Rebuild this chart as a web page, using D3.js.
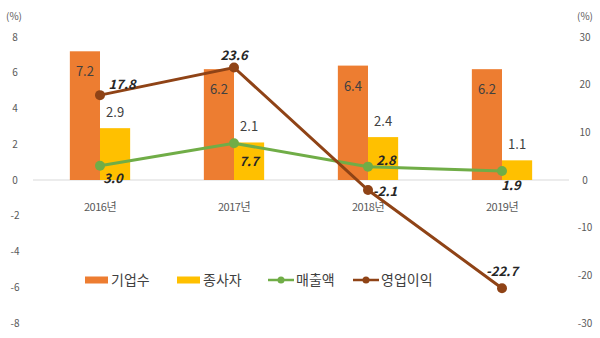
<!DOCTYPE html>
<html><head><meta charset="utf-8">
<script src="https://cdn.jsdelivr.net/npm/d3@7"></script>
<style>body{margin:0;background:#fff;}svg{display:block;font-family:"Noto Sans CJK KR","Noto Sans",sans-serif;}</style>
</head><body>
<svg id="c" width="600" height="338"></svg>
<script>
const categories = ["2016년","2017년","2018년","2019년"];
const firms = [7.2, 6.2, 6.4, 6.2];        // 기업수 (left axis)
const workers = [2.9, 2.1, 2.4, 1.1];      // 종사자 (left axis)
const sales = [3.0, 7.7, 2.8, 1.9];        // 매출액 (right axis)
const profit = [17.8, 23.6, -2.1, -22.7];  // 영업이익 (right axis)
const leftTicks = [8,6,4,2,0,-2,-4,-6,-8];
const rightTicks = [30,20,10,0,-10,-20,-30];
const seriesNames = ["기업수","종사자","매출액","영업이익"];

(function(){
const C = {firms:"#ED7D31", workers:"#FFC000", sales:"#70AD47", profit:"#8F4316"};
const svg = d3.select("#c");
const pL = 33, pR = 569, pT = 37, pB = 323;

const x = d3.scaleBand().domain(categories).range([pL, pR]).paddingInner(0.55).paddingOuter(0.275);
const xs = d3.scaleBand().domain(["f","w"]).range([0, x.bandwidth()]);
const yL = d3.scaleLinear().domain([-8, 8]).range([pB, pT]);
const yR = d3.scaleLinear().domain([-30, 30]).range([pB, pT]);
const cx = c => x(c) + x.bandwidth()/2;

// zero line
svg.append("line").attr("x1", pL).attr("x2", pR).attr("y1", yL(0)).attr("y2", yL(0))
  .attr("stroke", "#d9d9d9").attr("stroke-width", 1.2);

// axes tick labels
svg.append("g").selectAll("text").data(leftTicks).join("text")
  .attr("x", 15).attr("y", d => yL(d)).attr("dy", "0.35em").attr("text-anchor", "middle")
  .attr("font-size", 10).attr("fill", "#595959").text(d => d);
svg.append("g").selectAll("text").data(rightTicks).join("text")
  .attr("x", 585).attr("y", d => yR(d)).attr("dy", "0.35em").attr("text-anchor", "middle")
  .attr("font-size", 10).attr("fill", "#595959").text(d => d);
svg.append("text").attr("x", 14).attr("y", 20).attr("text-anchor", "middle").attr("font-size", 10).attr("fill", "#595959").text("(%)");
svg.append("text").attr("x", 585).attr("y", 20).attr("text-anchor", "middle").attr("font-size", 10).attr("fill", "#595959").text("(%)");

// category labels
svg.append("g").selectAll("text").data(categories).join("text")
  .attr("x", d => cx(d)).attr("y", 211).attr("text-anchor", "middle")
  .attr("font-size", 11).attr("fill", "#595959").attr("letter-spacing", "-0.5").text(d => d);

// bars
svg.append("g").selectAll("rect").data(firms).join("rect")
  .attr("x", (d,i) => x(categories[i]) + xs("f")).attr("width", xs.bandwidth())
  .attr("y", d => yL(d)).attr("height", d => yL(0) - yL(d)).attr("fill", C.firms);
svg.append("g").selectAll("rect").data(workers).join("rect")
  .attr("x", (d,i) => x(categories[i]) + xs("w")).attr("width", xs.bandwidth())
  .attr("y", d => yL(d)).attr("height", d => yL(0) - yL(d)).attr("fill", C.workers);

// bar labels
svg.append("g").selectAll("text").data(firms).join("text")
  .attr("x", (d,i) => x(categories[i]) + xs("f") + xs.bandwidth()/2).attr("y", d => yL(d) + 25)
  .attr("text-anchor", "middle").attr("font-size", 13).attr("fill", "#404040").text(d => d.toFixed(1));
svg.append("g").selectAll("text").data(workers).join("text")
  .attr("x", (d,i) => x(categories[i]) + xs("w") + xs.bandwidth()/2).attr("y", d => yL(d) - 11)
  .attr("text-anchor", "middle").attr("font-size", 13).attr("fill", "#404040").text(d => d.toFixed(1));

// lines
const line = d3.line().x((d,i) => cx(categories[i])).y(d => yR(d));
svg.append("path").datum(sales).attr("d", line).attr("fill", "none").attr("stroke", C.sales).attr("stroke-width", 3);
svg.append("g").selectAll("circle").data(sales).join("circle")
  .attr("cx", (d,i) => cx(categories[i])).attr("cy", d => yR(d)).attr("r", 5).attr("fill", C.sales);
svg.append("path").datum(profit).attr("d", line).attr("fill", "none").attr("stroke", C.profit).attr("stroke-width", 3);
svg.append("g").selectAll("circle").data(profit).join("circle")
  .attr("cx", (d,i) => cx(categories[i])).attr("cy", d => yR(d)).attr("r", 5).attr("fill", C.profit);

// line labels (offsets relative to points)
const salesOff = [[13, 13], [15, 18], [18, -6], [9, 15]];
const profitOff = [[22, -11], [0, -12], [17, 1], [0, -17]];
svg.append("g").selectAll("text").data(sales).join("text")
  .attr("x", (d,i) => cx(categories[i]) + salesOff[i][0]).attr("y", (d,i) => yR(d) + salesOff[i][1]).attr("dy", "0.35em")
  .attr("text-anchor", "middle").attr("font-size", 13).attr("font-weight", "bold").attr("font-style", "italic")
  .attr("fill", "#262626").text(d => d.toFixed(1));
svg.append("g").selectAll("text").data(profit).join("text")
  .attr("x", (d,i) => cx(categories[i]) + profitOff[i][0]).attr("y", (d,i) => yR(d) + profitOff[i][1]).attr("dy", "0.35em")
  .attr("text-anchor", "middle").attr("font-size", 13).attr("font-weight", "bold").attr("font-style", "italic")
  .attr("fill", "#262626").text(d => d.toFixed(1));

// legend
const lg = svg.append("g").attr("transform", "translate(0,280)");
const legX = [85, 177, 268, 353];
const colors = [C.firms, C.workers, C.sales, C.profit];
seriesNames.forEach((n, i) => {
  const g = lg.append("g").attr("transform", `translate(${legX[i]},0)`);
  if (i < 2) {
    g.append("rect").attr("x", 0).attr("y", -3.5).attr("width", 23).attr("height", 7).attr("fill", colors[i]);
  } else {
    g.append("line").attr("x1", 0).attr("x2", 26).attr("y1", 0).attr("y2", 0).attr("stroke", colors[i]).attr("stroke-width", 2.5);
    g.append("circle").attr("cx", 13).attr("cy", 0).attr("r", 3.5).attr("fill", colors[i]);
  }
  g.append("text").attr("x", i < 2 ? 26 : 28).attr("y", 0).attr("dy", "0.36em").attr("font-size", 14)
    .attr("fill", "#404040").text(n);
});
})();
</script>
</body></html>
